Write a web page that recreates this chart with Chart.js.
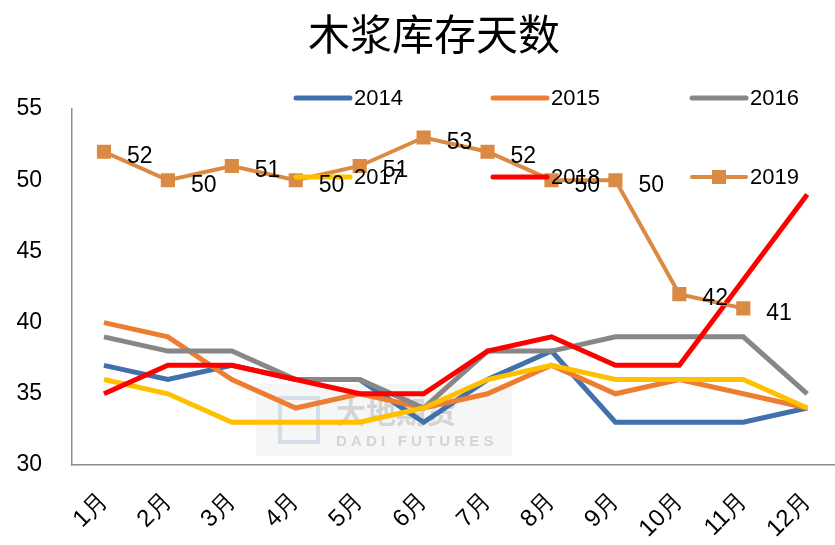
<!DOCTYPE html>
<html lang="zh">
<head>
  <meta charset="UTF-8">
  <title>木浆库存天数</title>
  <script src="https://cdn.jsdelivr.net/npm/chart.js"></script>
  <style>
    body { margin: 0; background: #fff; overflow: hidden; }
    .chart-wrap { position: relative; width: 850px; height: 545px; }
  </style>
</head>
<body>
  <div class="chart-wrap"><canvas id="pulpChart"></canvas></div>

  <script>
    // chart data
    const months = ['1月', '2月', '3月', '4月', '5月', '6月', '7月', '8月', '9月', '10月', '11月', '12月'];
    const yTicks = [30, 35, 40, 45, 50, 55];
    const years = ['2014', '2015', '2016', '2017', '2018', '2019'];

    const days2014 = [37, 36, 37, 36, 36, 33, 36, 38, 33, 33, 33, 34];
    const days2015 = [40, 39, 36, 34, 35, 34, 35, 37, 35, 36, 35, 34];
    const days2016 = [39, 38, 38, 36, 36, 34, 38, 38, 39, 39, 39, 35];
    const days2017 = [36, 35, 33, 33, 33, 34, 36, 37, 36, 36, 36, 34];
    const days2018 = [35, 37, 37, 36, 35, 35, 38, 39, 37, 37, 43, 49];
    const days2019 = [52, 50, 51, 50, 51, 53, 52, 50, 50, 42, 41, null];

    const colors = ['#4270ad', '#ed7d31', '#878787', '#ffc000', '#ff0000', '#da8a42'];
    const numFont = '"Liberation Sans", Arial, sans-serif';

    function lineSet(i, data) {
      return {
        label: years[i],
        data: data,
        borderColor: colors[i],
        backgroundColor: colors[i],
        borderWidth: 5,
        pointRadius: 0,
        tension: 0,
        order: 6 - i
      };
    }

    const set2019 = lineSet(5, days2019);
    set2019.borderWidth = 4;
    set2019.pointStyle = 'rect';
    set2019.pointRadius = 10;
    set2019.pointBorderWidth = 0;

    // legend sits inside the plot, two rows of three
    const legendSpots = [[296, 98], [493, 98], [692, 98], [296, 177], [493, 177], [692, 177]];

    const extras = {
      id: 'extras',
      beforeDatasetsDraw(chart) {
        // faint watermark
        const c = chart.ctx;
        c.save();
        c.fillStyle = 'rgba(235,235,235,0.45)';
        c.fillRect(256, 384, 256, 72);
        c.strokeStyle = 'rgba(170,190,215,0.45)';
        c.lineWidth = 4;
        c.strokeRect(280, 398, 38, 44);
        c.fillStyle = 'rgba(150,150,150,0.35)';
        c.font = 'bold 30px "Noto Sans CJK SC", sans-serif';
        c.textBaseline = 'middle';
        c.fillText('大地期货', 336, 412);
        c.font = 'bold 15px ' + numFont;
        c.fillText('D A D I   F U T U R E S', 336, 442);
        c.restore();
      },
      afterDraw(chart) {
        const c = chart.ctx;
        c.save();
        // title
        c.fillStyle = '#000';
        c.font = '42px "Noto Sans CJK SC", sans-serif';
        c.textAlign = 'center';
        c.textBaseline = 'middle';
        c.fillText('木浆库存天数', 434, 34);

        // legend
        c.font = '22px ' + numFont;
        c.textAlign = 'left';
        chart.data.datasets.forEach((ds, i) => {
          const [x, y] = legendSpots[i];
          c.strokeStyle = ds.borderColor;
          c.lineWidth = ds.borderWidth;
          c.lineCap = 'round';
          c.beginPath();
          c.moveTo(x, y);
          c.lineTo(x + 54, y);
          c.stroke();
          if (ds.pointStyle === 'rect') {
            c.fillStyle = ds.borderColor;
            c.fillRect(x + 27 - 7, y - 7, 14, 14);
          }
          c.fillStyle = '#000';
          c.fillText(ds.label, x + 58, y + 1);
        });

        // value labels for 2019
        const meta = chart.getDatasetMeta(5);
        c.font = '23px ' + numFont;
        meta.data.forEach((pt, j) => {
          const v = days2019[j];
          if (v === null) return;
          c.fillText(String(v), pt.x + 23, pt.y + 5);
        });
        c.restore();
      }
    };

    const ctx = document.getElementById('pulpChart').getContext('2d');
    const pulpChart = new Chart(ctx, {
      type: 'line',
      data: {
        labels: months,
        datasets: [
          lineSet(0, days2014),
          lineSet(1, days2015),
          lineSet(2, days2016),
          lineSet(3, days2017),
          lineSet(4, days2018),
          set2019
        ]
      },
      options: {
        responsive: true,
        maintainAspectRatio: false,
        animation: false,
        layout: { padding: { top: 109, right: 5, bottom: 0, left: 0 } },
        scales: {
          x: {
            offset: true,
            grid: { display: false, drawTicks: false },
            border: { color: '#8c8c8c', width: 1.5 },
            afterFit(scale) { scale.height = 80; },
            ticks: {
              color: '#000',
              minRotation: 45,
              maxRotation: 45,
              autoSkip: false,
              padding: 22,
              font: { size: 24, family: numFont }
            }
          },
          y: {
            min: 30,
            max: 55,
            grid: { display: false, drawTicks: false },
            border: { color: '#8c8c8c', width: 1.5 },
            afterFit(scale) { scale.width = 72; },
            afterBuildTicks(scale) { scale.ticks = yTicks.map(v => ({ value: v })); },
            ticks: {
              color: '#000',
              padding: 30,
              font: { size: 23, family: numFont }
            }
          }
        },
        plugins: {
          legend: { display: false },
          tooltip: { enabled: false }
        }
      },
      plugins: [extras]
    });
  </script>
</body>
</html>
